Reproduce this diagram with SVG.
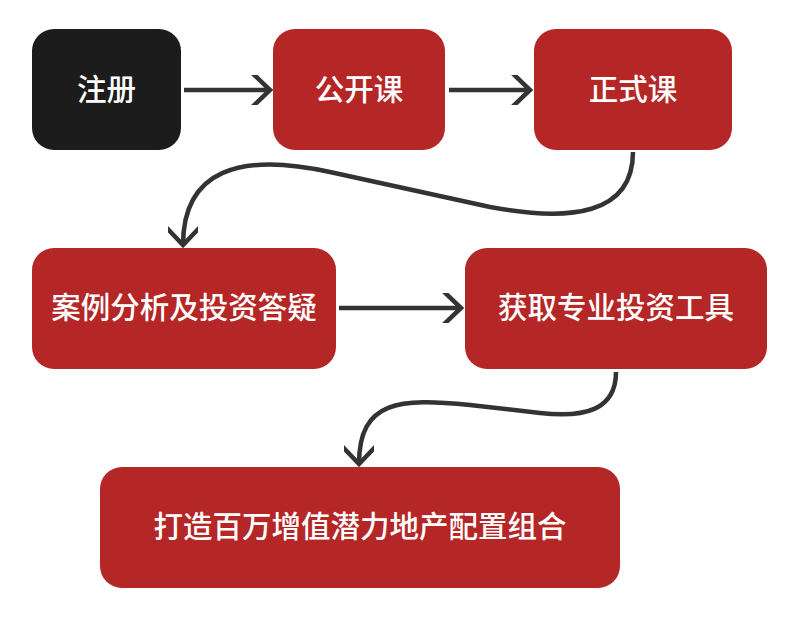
<svg xmlns="http://www.w3.org/2000/svg" width="786" height="622" viewBox="0 0 786 622">
<defs>
<style>
.red{fill:#b52626;}
.blk{fill:#1c1c1c;}
.t{fill:#ffffff;font-family:"Noto Sans CJK SC","Noto Sans",sans-serif;font-size:29.5px;font-weight:500;text-anchor:middle;dominant-baseline:central;}
.c{fill:none;stroke:#333333;stroke-width:4.5;}
</style>
<marker id="ah" viewBox="0 0 30 30" refX="24" refY="15" markerWidth="30" markerHeight="30" markerUnits="userSpaceOnUse" orient="auto">
<path d="M1 -7 L24 15 L1 37" fill="none" stroke="#333333" stroke-width="4.5"/>
</marker>
</defs>
<rect width="786" height="622" fill="#ffffff"/>
<g id="n1"><rect class="blk" x="32" y="29" width="149" height="121" rx="22"/><text class="t" x="106.5" y="87">注册</text></g>
<g id="n2"><rect class="red" x="273" y="29" width="172" height="121" rx="22"/><text class="t" x="359" y="87">公开课</text></g>
<g id="n3"><rect class="red" x="534" y="29" width="198" height="121" rx="22"/><text class="t" x="633" y="87">正式课</text></g>
<g id="n4"><rect class="red" x="32" y="248" width="304" height="121" rx="22"/><text class="t" x="184" y="305">案例分析及投资答疑</text></g>
<g id="n5"><rect class="red" x="465" y="248" width="302" height="121" rx="22"/><text class="t" x="616" y="305">获取专业投资工具</text></g>
<g id="n6"><rect class="red" x="100" y="467" width="520" height="121" rx="22"/><text class="t" x="360" y="524">打造百万增值潜力地产配置组合</text></g>
<g id="connectors">
<path class="c" d="M184 90 L270 90" marker-end="url(#ah)"/>
<path class="c" d="M449 90 L530 90" marker-end="url(#ah)"/>
<path class="c" d="M339 308 L461 308" marker-end="url(#ah)"/>
<path class="c" d="M633 152 C633 215 570 222 490 207 L330 172 C240 152 183 170 183 245" marker-end="url(#ah)"/>
<path class="c" d="M616 372 C616 410 585 418 540 413 L470 405 C400 398 359 400 359 464" marker-end="url(#ah)"/>
</g>
</svg>
